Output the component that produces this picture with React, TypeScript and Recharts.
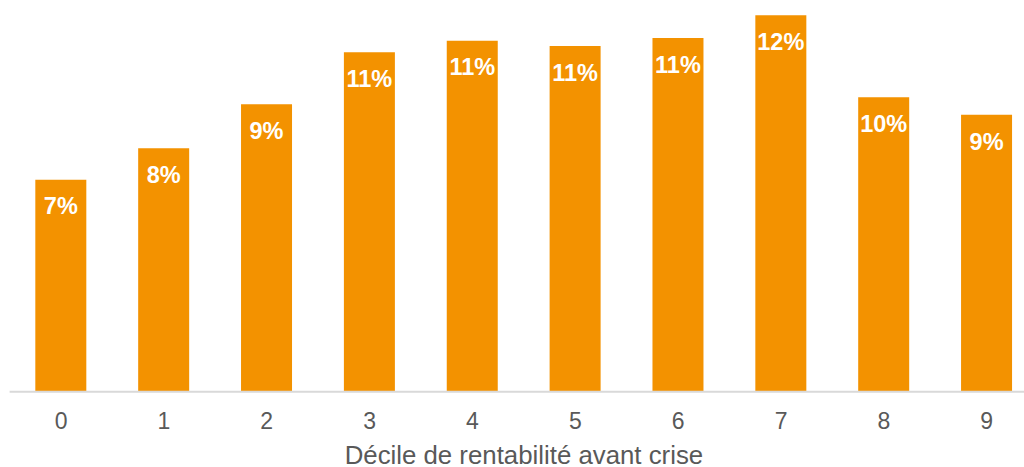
import React from "react";
import { BarChart, Bar, XAxis, YAxis, LabelList } from "recharts";

const deciles = ["0", "1", "2", "3", "4", "5", "6", "7", "8", "9"];
const rentabilite = [6.87, 7.89, 9.31, 11.0, 11.37, 11.2, 11.46, 12.2, 9.54, 8.97];

const data = deciles.map((d, i) => ({ decile: d, value: rentabilite[i] }));

const ORANGE = "#F39200";
const FONT = "'Liberation Sans', Arial, sans-serif";

export default function App() {
    return (
        <div style={{ position: "fixed", left: 0, top: 0, width: 1024, height: 467, overflow: "hidden", background: "#fff" }}>
            <BarChart
                width={1040}
                height={467}
                data={data}
                margin={{ top: 9, right: 1.8, left: 9.6, bottom: 0 }}
                barCategoryGap="25%"
            >
                <XAxis
                    dataKey="decile"
                    height={75.3}
                    tickLine={false}
                    tickMargin={15}
                    axisLine={{ stroke: "#d9d9d9", strokeWidth: 2 }}
                    tick={{ fontSize: 23, fill: "#595959", fontFamily: FONT }}
                    label={{
                        value: "Décile de rentabilité avant crise",
                        position: "insideBottom",
                        offset: 3,
                        fontSize: 25.8,
                        fill: "#595959",
                        fontFamily: FONT,
                    }}
                />
                <YAxis hide domain={[0, 12.4]} />
                <Bar dataKey="value" fill={ORANGE} isAnimationActive={false}>
                    <LabelList
                        dataKey="value"
                        position="insideTop"
                        offset={18}
                        formatter={(v: number) => `${Math.round(v)}%`}
                        style={{ fill: "#fff", fontWeight: "bold", fontSize: 23.5, fontFamily: FONT }}
                    />
                </Bar>
            </BarChart>
        </div>
    );
}
